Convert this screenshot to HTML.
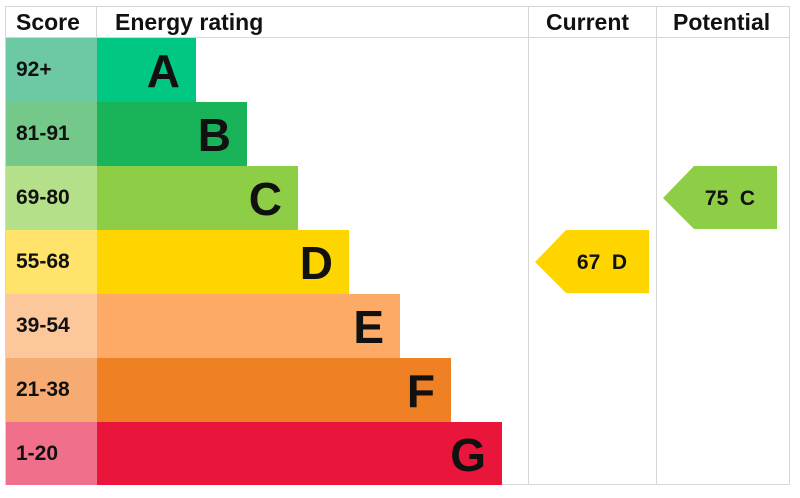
<!DOCTYPE html>
<html><head><style>
body{margin:0;background:#fff;width:800px;height:498px;overflow:hidden;font-family:"Liberation Sans",Arial,sans-serif;}
.a{position:absolute;}
.s{position:absolute;left:6px;width:91px;height:64px;font-weight:bold;font-size:21px;line-height:64px;padding-left:10px;box-sizing:border-box;color:#111;}
.b{position:absolute;left:97px;height:64px;font-weight:bold;font-size:46px;line-height:66px;text-align:right;padding-right:16px;box-sizing:border-box;color:#111;}
.h{position:absolute;top:6px;height:32px;line-height:32px;font-weight:bold;font-size:23px;color:#111;}
</style></head><body>
<div class="a" style="left:5px;top:6px;width:785px;height:479px;border:1px solid #d6d6d6;box-sizing:border-box"></div>
<div class="a" style="left:5px;top:37px;width:785px;height:1px;background:#d6d6d6"></div>
<div class="a" style="left:96px;top:6px;width:1px;height:32px;background:#d6d6d6"></div>
<div class="a" style="left:528px;top:6px;width:1px;height:479px;background:#d6d6d6"></div>
<div class="a" style="left:656px;top:6px;width:1px;height:479px;background:#d6d6d6"></div>
<div class="h" style="left:16px">Score</div>
<div class="h" style="left:115px">Energy rating</div>
<div class="h" style="left:546px">Current</div>
<div class="h" style="left:673px">Potential</div>

<div class="s" style="top:38px;background:#6cc9a3">92+</div>
<div class="b" style="top:38px;width:99px;background:#00c781">A</div>
<div class="s" style="top:102px;background:#74c98a">81-91</div>
<div class="b" style="top:102px;width:150px;background:#19b459">B</div>
<div class="s" style="top:166px;background:#b5e08a">69-80</div>
<div class="b" style="top:166px;width:201px;background:#8dce46">C</div>
<div class="s" style="top:230px;background:#ffe36b">55-68</div>
<div class="b" style="top:230px;width:252px;background:#ffd500">D</div>
<div class="s" style="top:294px;background:#fdc79c">39-54</div>
<div class="b" style="top:294px;width:303px;background:#fcaa65">E</div>
<div class="s" style="top:358px;background:#f5ab72">21-38</div>
<div class="b" style="top:358px;width:354px;background:#ef8023">F</div>
<div class="s" style="top:422px;height:63px;background:#f0708b">1-20</div>
<div class="b" style="top:422px;height:63px;width:405px;background:#e9153b">G</div>

<svg class="a" style="left:0;top:0" width="800" height="498">
<polygon points="535,262 566,230 649,230 649,293 566,293" fill="#ffd500"/>
<polygon points="663,198 694,166 777,166 777,229 694,229" fill="#8dce46"/>
<text x="602" y="269" font-family="Liberation Sans,Arial,sans-serif" font-weight="bold" font-size="21" text-anchor="middle" fill="#111" xml:space="preserve">67  D</text>
<text x="730" y="205" font-family="Liberation Sans,Arial,sans-serif" font-weight="bold" font-size="21" text-anchor="middle" fill="#111" xml:space="preserve">75  C</text>
</svg>
</body></html>
